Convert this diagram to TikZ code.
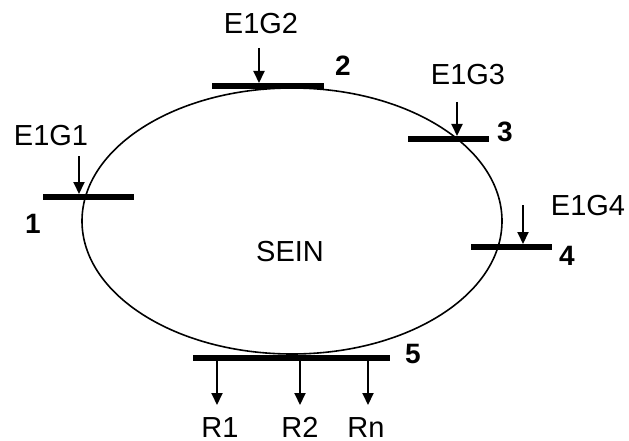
\documentclass[tikz,border=0pt]{standalone}
\usepackage{fontspec}
\setmainfont{Liberation Sans}
\usetikzlibrary{arrows.meta}
\begin{document}
\begin{tikzpicture}[x=1pt,y=-1pt,
  lbl/.style={inner sep=0pt,font=\fontsize{29}{29}\selectfont},
  num/.style={inner sep=0pt,font=\fontsize{28}{28}\selectfont\bfseries},
  bar/.style={line width=6pt},
  feed/.style={line width=2pt,-{Triangle[width=11pt,length=12pt]}}]
\useasboundingbox (0,0) rectangle (629,441);
% the ring
\draw[line width=1.6pt] (292,221) ellipse [x radius=210, y radius=133];
\node[lbl] (sein) at (290,252) {SEIN};
% junction bars 1-5
\coordinate (b1l) at (43,197); \coordinate (b1r) at (134,197);
\coordinate (b2l) at (212,86);  \coordinate (b2r) at (324,86);
\coordinate (b3l) at (408,139); \coordinate (b3r) at (489,139);
\coordinate (b4l) at (471,247); \coordinate (b4r) at (552,247);
\coordinate (b5l) at (193,358); \coordinate (b5r) at (390,358);
\foreach \i in {1,...,5} \draw[bar] (b\i l) -- (b\i r);
% incoming feeds
\node[lbl] (g1) at (51,136) {E1G1};
\node[lbl] (g2) at (261,24) {E1G2};
\node[lbl] (g3) at (468,75) {E1G3};
\node[lbl] (g4) at (588,206) {E1G4};
\coordinate (a1s) at (79,156);  \coordinate (a1e) at (79,194);
\coordinate (a2s) at (259,48);  \coordinate (a2e) at (259,83);
\coordinate (a3s) at (457,102); \coordinate (a3e) at (457,136);
\coordinate (a4s) at (523,205); \coordinate (a4e) at (523,244);
\foreach \i in {1,...,4} \draw[feed] (a\i s) -- (a\i e);
\node[num] (n1) at (33,224) {1};
\node[num] (n2) at (343,66) {2};
\node[num] (n3) at (505,132) {3};
\node[num] (n4) at (567,256) {4};
\node[num] (n5) at (413,354) {5};
% outgoing routes from point 5
\coordinate (r1s) at (217,361); \coordinate (r1e) at (217,405);
\coordinate (r2s) at (300,361); \coordinate (r2e) at (300,405);
\coordinate (r3s) at (368,361); \coordinate (r3e) at (368,405);
\foreach \i in {1,2,3} \draw[feed] (r\i s) -- (r\i e);
\node[lbl,anchor=base] (o1) at (220,437) {R1};
\node[lbl,anchor=base] (o2) at (300,437) {R2};
\node[lbl,anchor=base] (o3) at (366,437) {Rn};
\end{tikzpicture}
\end{document}
